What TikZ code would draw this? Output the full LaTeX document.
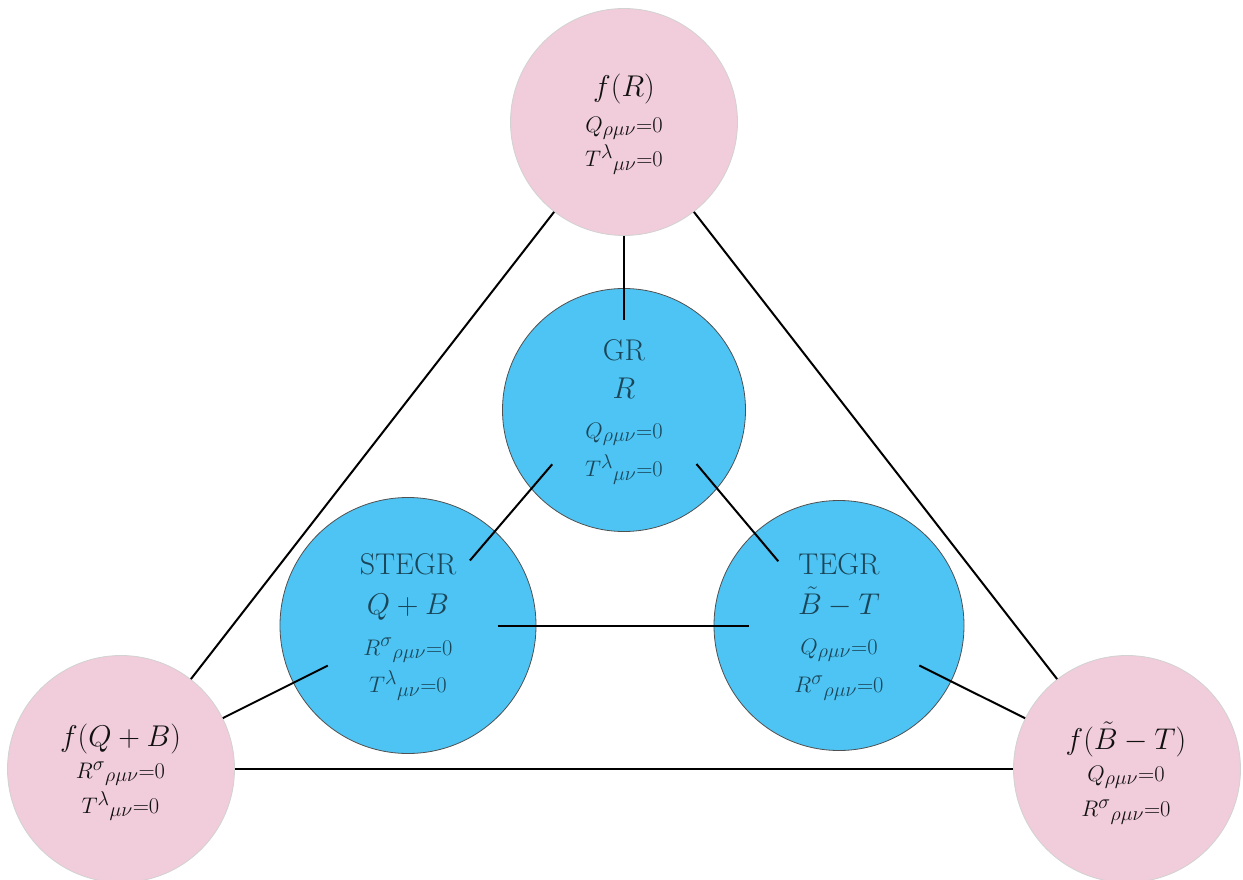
\RequirePackage{fix-cm}
\documentclass[tikz,border=0pt]{standalone}
\usetikzlibrary{calc}
\DeclareMathSizes{22.5}{22.5}{20}{15}
\DeclareMathSizes{30}{30}{21}{15}
\definecolor{pinkfill}{HTML}{F1CCDA}
\definecolor{pinkdraw}{HTML}{D2D2D2}
\definecolor{bluefill}{HTML}{4DC4F3}
\definecolor{bluedraw}{HTML}{505050}
\definecolor{bluetext}{HTML}{1B4558}
\definecolor{pinktext}{HTML}{111111}
\newcommand{\ttlfont}{\fontsize{30}{35}\selectfont}
\newcommand{\cndfont}{\fontsize{22.5}{26}\selectfont}
\tikzset{
  pinknode/.style={circle, fill=pinkfill, draw=pinkdraw, line width=0.8pt, inner sep=0pt},
  bluenode/.style={circle, fill=bluefill, draw=bluedraw, line width=0.8pt, inner sep=0pt},
  innernode/.style={circle, inner sep=0pt, minimum size=179pt},
  ttl/.style={anchor=base, inner sep=0pt, font=\ttlfont},
  cnd/.style={anchor=base, inner sep=0pt, font=\cndfont},
  link/.style={draw=black, line width=2pt},
}
\begin{document}
\begin{tikzpicture}[x=1pt,y=-1pt]
\useasboundingbox (0,0) rectangle (1243,880);
% outer (pink) circles
\node[pinknode, minimum size=227pt] (fR)  at (624,122) {};
\node[pinknode, minimum size=227pt] (fQB) at (121,769) {};
\node[pinknode, minimum size=227pt] (fBT) at (1127,769) {};
% inner (blue) circles
\node[bluenode, minimum size=243pt] (GR)    at (624,410) {};
\node[bluenode, minimum size=256pt] (STEGR) at (408,625.5) {};
\node[bluenode, minimum size=250pt] (TEGR)  at (839,625.5) {};
% inner anchors for connectors
\node[innernode] (GRi)    at (GR.center) {};
\node[innernode] (STEGRi) at (STEGR.center) {};
\node[innernode] (TEGRi)  at (TEGR.center) {};
\coordinate (GRsw) at ($(GR.center)+(142.9:90)$);
\coordinate (STne) at ($(STEGR.center)+(-46.4:89.8)$);
\coordinate (GRse) at ($(GR.center)+(36.7:90.4)$);
\coordinate (TEnw) at ($(TEGR.center)+(-133.4:88.4)$);
% connectors
\draw[link] (fR) -- (fQB);
\draw[link] (fR) -- (fBT);
\draw[link] (fQB) -- (fBT);
\draw[link] (fR) -- (GRi);
\draw[link] (GRsw) -- (STne);
\draw[link] (GRse) -- (TEnw);
\draw[link] (STEGRi) -- (TEGRi);
\draw[link] (STEGRi) -- (fQB);
\draw[link] (TEGRi) -- (fBT);
% texts
\begin{scope}[text=pinktext]
\node[ttl] (fRa) at (624,96.7) {$f(R)$};
\node[cnd] (fRb) at (624,132.5) {$Q_{\rho\mu\nu}{=}0$};
\node[cnd] (fRc) at (624,167) {$T^{\lambda}{}_{\mu\nu}{=}0$};
\node[ttl] (fQBa) at (120.5,746) {$f(Q+B)$};
\node[cnd] (fQBb) at (120.5,778.3) {$R^{\sigma}{}_{\rho\mu\nu}{=}0$};
\node[cnd] (fQBc) at (120.5,813.3) {$T^{\lambda}{}_{\mu\nu}{=}0$};
\node[ttl] (fBTa) at (1126,749.3) {$f(\tilde{B}-T)$};
\node[cnd] (fBTb) at (1126,781) {$Q_{\rho\mu\nu}{=}0$};
\node[cnd] (fBTc) at (1126,816.7) {$R^{\sigma}{}_{\rho\mu\nu}{=}0$};
\end{scope}
\begin{scope}[text=bluetext]
\node[ttl] (GRa) at (624,360) {GR};
\node[ttl] (GRb) at (624,398.3) {$R$};
\node[cnd] (GRc) at (624,438.3) {$Q_{\rho\mu\nu}{=}0$};
\node[cnd] (GRd) at (624,476.7) {$T^{\lambda}{}_{\mu\nu}{=}0$};
\node[ttl] (STa) at (408,574) {STEGR};
\node[ttl] (STb) at (408,614) {$Q+B$};
\node[cnd] (STc) at (408,655) {$R^{\sigma}{}_{\rho\mu\nu}{=}0$};
\node[cnd] (STd) at (408,692.7) {$T^{\lambda}{}_{\mu\nu}{=}0$};
\node[ttl] (TEa) at (839,574) {TEGR};
\node[ttl] (TEb) at (839,614) {$\tilde{B}-T$};
\node[cnd] (TEc) at (839,654.3) {$Q_{\rho\mu\nu}{=}0$};
\node[cnd] (TEd) at (839,692.7) {$R^{\sigma}{}_{\rho\mu\nu}{=}0$};
\end{scope}
\end{tikzpicture}
\end{document}
